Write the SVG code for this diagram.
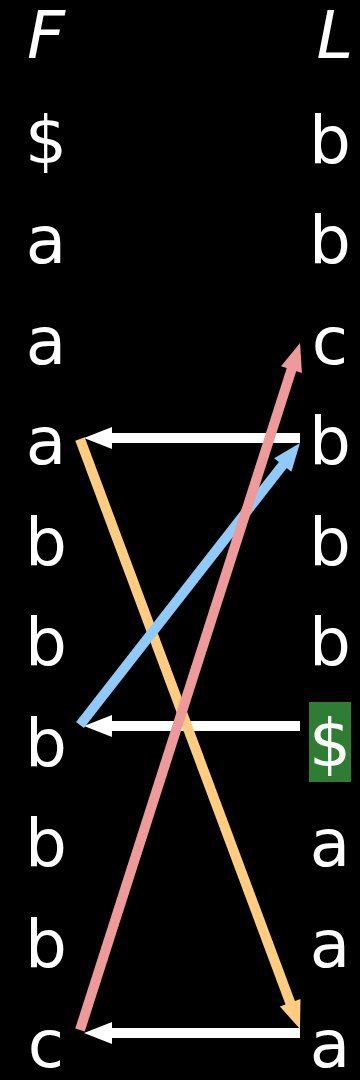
<svg xmlns="http://www.w3.org/2000/svg" width="360" height="1080" viewBox="0 0 360 1080">
<style>
text{font-family:"DejaVu Sans",sans-serif;font-size:66px;fill:#fff;text-anchor:middle}
.h{font-style:italic}
line{stroke-width:10;fill:none}
.w{stroke:#fff}
.o{stroke:#ffcc80}
.b{stroke:#90caf9}
.p{stroke:#ef9a9a}
</style>
<defs>
<marker id="mw" markerUnits="userSpaceOnUse" markerWidth="28" markerHeight="22" refX="2" refY="11" orient="auto" overflow="visible"><path d="M0,0 L28,11 L0,22 Z" fill="#fff"/></marker>
<marker id="mo" markerUnits="userSpaceOnUse" markerWidth="28" markerHeight="22" refX="2" refY="11" orient="auto" overflow="visible"><path d="M0,0 L28,11 L0,22 Z" fill="#ffcc80"/></marker>
<marker id="mb" markerUnits="userSpaceOnUse" markerWidth="28" markerHeight="22" refX="2" refY="11" orient="auto" overflow="visible"><path d="M0,0 L28,11 L0,22 Z" fill="#90caf9"/></marker>
<marker id="mp" markerUnits="userSpaceOnUse" markerWidth="28" markerHeight="22" refX="2" refY="11" orient="auto" overflow="visible"><path d="M0,0 L28,11 L0,22 Z" fill="#ef9a9a"/></marker>
</defs>
<rect width="360" height="1080" fill="#000"/>
<g id="colF">
<text class="h" x="46" y="58">F</text>
<text x="46" y="163">$</text>
<text x="46" y="263.4">a</text>
<text x="46" y="363.9">a</text>
<text x="46" y="464.3">a</text>
<text x="46" y="564.8">b</text>
<text x="46" y="665.2">b</text>
<text x="46" y="765.6">b</text>
<text x="46" y="866.1">b</text>
<text x="46" y="966.5">b</text>
<text x="46" y="1067">c</text>
</g>
<g id="colL">
<text class="h" x="335" y="58">L</text>
<text x="330" y="163">b</text>
<text x="330" y="263.4">b</text>
<text x="330" y="363.9">c</text>
<text x="330" y="464.3">b</text>
<text x="330" y="564.8">b</text>
<text x="330" y="665.2">b</text>
<rect x="309" y="702" width="42" height="80" fill="#2e7d32"/>
<text x="330" y="765.6">$</text>
<text x="330" y="866.1">a</text>
<text x="330" y="966.5">a</text>
<text x="330" y="1067">a</text>
</g>
<g id="connectors">
<line class="w" x1="300" y1="438" x2="110" y2="438" marker-end="url(#mw)"/>
<line class="w" x1="300" y1="726" x2="110" y2="726" marker-end="url(#mw)"/>
<line class="w" x1="300" y1="1033" x2="110" y2="1033" marker-end="url(#mw)"/>
<line class="o" x1="80" y1="439" x2="290.9" y2="1004.6" marker-end="url(#mo)"/>
<line class="b" x1="80" y1="725" x2="284" y2="463.5" marker-end="url(#mb)"/>
<line class="p" x1="80" y1="1030" x2="292.1" y2="367.8" marker-end="url(#mp)"/>
</g>
</svg>
